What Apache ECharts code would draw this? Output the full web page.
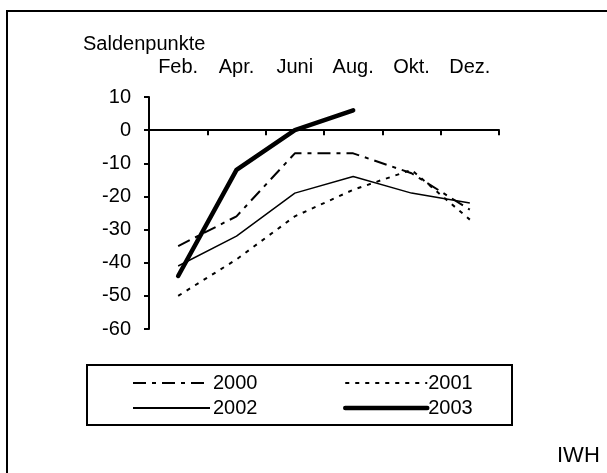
<!DOCTYPE html>
<html>
<head>
<meta charset="utf-8">
<script src="https://cdn.jsdelivr.net/npm/echarts@6/dist/echarts.min.js"></script>
<style>
  html, body { margin: 0; padding: 0; background: #fff; }
  #chart { width: 607px; height: 473px; }
</style>
</head>
<body>
<div id="chart"></div>
<script>
// Monate (zweimonatlich)
const months = ["Feb.", "Apr.", "Juni", "Aug.", "Okt.", "Dez."];
const y2000 = [-35, -26, -7, -7, -13, -24];
const y2001 = [-50, -39, -26, -18, -12, -27];
const y2002 = [-41, -32, -19, -14, -19, -22];
const y2003 = [-44, -12, 0, 6];

const font = "Liberation Sans, Arial, sans-serif";

const chart = echarts.init(document.getElementById("chart"));
chart.setOption({
  animation: false,
  backgroundColor: "#fff",
  textStyle: { fontFamily: font, color: "#000" },
  grid: { left: 149, right: 108, top: 97, bottom: 144 },
  xAxis: [
    {
      type: "category",
      data: months,
      boundaryGap: true,
      axisLine: { onZero: true, lineStyle: { color: "#000", width: 2 } },
      axisTick: { show: true, length: 5, lineStyle: { color: "#000", width: 2 } },
      axisLabel: { show: false },
      splitLine: { show: false }
    },
    {
      // Beschriftung oben
      type: "category",
      data: months,
      position: "top",
      boundaryGap: true,
      axisLine: { show: false },
      axisTick: { show: false },
      axisLabel: { interval: 0, margin: 20, fontSize: 20, color: "#000", fontFamily: font },
      splitLine: { show: false }
    }
  ],
  yAxis: {
    type: "value",
    min: -60,
    max: 10,
    interval: 10,
    axisLine: { show: true, lineStyle: { color: "#000", width: 2 } },
    axisTick: { show: true, length: 5, lineStyle: { color: "#000", width: 2 } },
    axisLabel: { margin: 18, fontSize: 20, color: "#000", fontFamily: font },
    splitLine: { show: false }
  },
  legend: [
    {
      data: ["2000", "2002"],
      orient: "vertical",
      left: 127,
      top: 368,
      itemWidth: 77,
      itemHeight: 14,
      itemGap: 5,
      itemStyle: { opacity: 0 },
      textStyle: { fontSize: 20, lineHeight: 20, color: "#000", fontFamily: font, padding: [0, 0, 0, -2] }
    },
    {
      data: ["2001", { name: "2003", lineStyle: { width: 4.5, cap: "round" } }],
      orient: "vertical",
      left: 338,
      top: 368,
      itemWidth: 82,
      itemHeight: 14,
      itemGap: 5,
      itemStyle: { opacity: 0 },
      textStyle: { fontSize: 20, lineHeight: 20, color: "#000", fontFamily: font, padding: [0, 0, 0, -4] }
    }
  ],
  graphic: [
    {
      type: "rect",
      shape: { x: 7, y: 11, width: 700, height: 600 },
      style: { fill: "none", stroke: "#000", lineWidth: 2 },
      silent: true
    },
    {
      type: "rect",
      shape: { x: 87, y: 365, width: 425, height: 60 },
      style: { fill: "none", stroke: "#000", lineWidth: 2 },
      silent: true
    },
    {
      type: "text",
      left: 83,
      top: 34,
      style: { text: "Saldenpunkte", fill: "#000", font: "20px " + font }
    },
    {
      type: "text",
      left: 557,
      top: 445,
      style: { text: "IWH", fill: "#000", font: "22px " + font }
    }
  ],
  series: [
    {
      name: "2000",
      type: "line",
      data: y2000,
      symbol: "none",
      lineStyle: { color: "#000", width: 2, type: [13, 6, 4, 6] },
      itemStyle: { color: "#000" },
      z: 2
    },
    {
      name: "2001",
      type: "line",
      data: y2001,
      symbol: "none",
      lineStyle: { color: "#000", width: 2, type: [4, 6] },
      itemStyle: { color: "#000" },
      z: 2
    },
    {
      name: "2002",
      type: "line",
      data: y2002,
      symbol: "none",
      lineStyle: { color: "#000", width: 1.5 },
      itemStyle: { color: "#000" },
      z: 3
    },
    {
      name: "2003",
      type: "line",
      data: y2003,
      symbol: "none",
      lineStyle: { color: "#000", width: 4.5, cap: "round", join: "round" },
      itemStyle: { color: "#000" },
      z: 4
    }
  ]
});
</script>
</body>
</html>
